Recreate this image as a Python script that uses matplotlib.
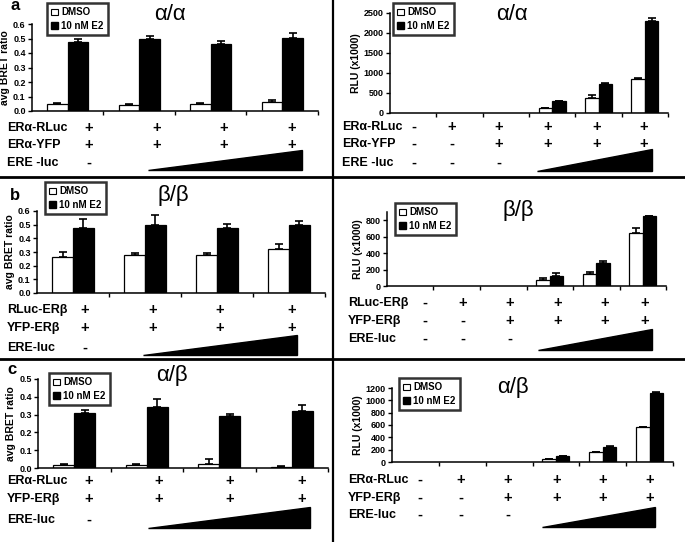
import numpy as np
import matplotlib
matplotlib.use("Agg")
import matplotlib.pyplot as plt
from matplotlib.patches import Patch, Polygon
from matplotlib.lines import Line2D

plt.rcParams["font.family"] = ["Liberation Sans", "DejaVu Sans"]
plt.rcParams["font.weight"] = "bold"

W, H = 685, 542

# ---- data ----
# BRET panels: 4 conditions
bret_a_dmso = [0.045, 0.040, 0.045, 0.065]
bret_a_dmso_err = [0.010, 0.010, 0.010, 0.010]
bret_a_e2 = [0.475, 0.500, 0.465, 0.505]
bret_a_e2_err = [0.025, 0.020, 0.015, 0.035]

bret_b_dmso = [0.265, 0.275, 0.275, 0.320]
bret_b_dmso_err = [0.035, 0.020, 0.020, 0.040]
bret_b_e2 = [0.475, 0.500, 0.475, 0.500]
bret_b_e2_err = [0.070, 0.070, 0.030, 0.030]

bret_c_dmso = [0.015, 0.015, 0.025, 0.005]
bret_c_dmso_err = [0.007, 0.007, 0.025, 0.007]
bret_c_e2 = [0.310, 0.340, 0.290, 0.320]
bret_c_e2_err = [0.015, 0.045, 0.015, 0.035]

# luciferase panels: 6 conditions, first three have no signal
rlu_a_dmso = [0, 0, 0, 130, 370, 860]
rlu_a_dmso_err = [0, 0, 0, 0, 80, 20]
rlu_a_e2 = [0, 0, 0, 290, 730, 2300]
rlu_a_e2_err = [0, 0, 0, 20, 10, 70]

rlu_b_dmso = [0, 0, 0, 75, 145, 640]
rlu_b_dmso_err = [0, 0, 0, 25, 30, 60]
rlu_b_e2 = [0, 0, 0, 120, 280, 850]
rlu_b_e2_err = [0, 0, 0, 35, 30, 0]

rlu_c_dmso = [0, 0, 0, 50, 160, 575]
rlu_c_dmso_err = [0, 0, 0, 0, 10, 0]
rlu_c_e2 = [0, 0, 0, 100, 240, 1120]
rlu_c_e2_err = [0, 0, 0, 0, 15, 20]

labels_aa = ["ERα-RLuc", "ERα-YFP", "ERE -luc"]
labels_bb = ["RLuc-ERβ", "YFP-ERβ", "ERE-luc"]
labels_ab = ["ERα-RLuc", "YFP-ERβ", "ERE-luc"]

signs4 = [["+", "+", "+", "+"], ["+", "+", "+", "+"], ["-", "", "", ""]]
signs6 = [["-", "+", "+", "+", "+", "+"],
          ["-", "-", "+", "+", "+", "+"],
          ["-", "-", "-", "", "", ""]]


def fx(x):
    return x / W


def fy(y):
    return 1 - y / H


fig = plt.figure(figsize=(W / 100, H / 100), dpi=100)


def make_axes(l, t, r, b):
    return fig.add_axes([fx(l), fy(b), fx(r - l), (b - t) / H])


def bar_panel(box, dmso, dmso_err, e2, e2_err, ymax, yticks, fmt, ylabel,
              title, title_xy, leg_xy):
    ax = make_axes(*box)
    n = len(dmso)
    x = np.arange(n)
    w = 0.29
    keep = np.array(e2) > 0
    ax.bar(x[keep] - w / 2, np.array(dmso)[keep], w, color="white",
           edgecolor="black", linewidth=0.9,
           yerr=[np.zeros(keep.sum()), np.array(dmso_err)[keep]],
           error_kw=dict(ecolor="black", elinewidth=1.2, capsize=3, capthick=1.2))
    ax.bar(x[keep] + w / 2, np.array(e2)[keep], w, color="black",
           edgecolor="black", linewidth=0.9,
           yerr=[np.zeros(keep.sum()), np.array(e2_err)[keep]],
           error_kw=dict(ecolor="black", elinewidth=1.2, capsize=3, capthick=1.2))
    ax.set_xlim(-0.5, n - 0.5)
    ax.set_ylim(0, ymax)
    ax.set_yticks(yticks)
    ax.set_yticklabels([fmt.format(v) for v in yticks], fontsize=6.5,
                       fontweight="bold")
    ax.set_xticks(np.arange(n) + 0.5)
    ax.set_xticklabels([])
    ax.tick_params(axis="both", direction="out", length=3, width=1, pad=1.5)
    for s in ["top", "right"]:
        ax.spines[s].set_visible(False)
    for s in ["left", "bottom"]:
        ax.spines[s].set_linewidth(1.1)
    ax.set_ylabel(ylabel, fontsize=7.5, fontweight="bold", labelpad=2)
    fig.text(fx(title_xy[0]), fy(title_xy[1]), title, fontsize=16,
             ha="center", va="center", fontweight="normal")
    handles = [Patch(facecolor="white", edgecolor="black", linewidth=0.8),
               Patch(facecolor="black", edgecolor="black")]
    leg = ax.legend(handles, ["DMSO", "10 nM E2"], loc="upper left",
                    bbox_to_anchor=(fx(leg_xy[0]), fy(leg_xy[1])),
                    bbox_transform=fig.transFigure,
                    handlelength=0.7, handleheight=0.7, handletextpad=0.3,
                    borderpad=0.45, labelspacing=0.35, fancybox=False,
                    borderaxespad=0, prop=dict(weight="bold", size=7))
    leg.get_frame().set_edgecolor("black")
    leg.get_frame().set_linewidth(1.8)
    return ax


def table(lab_x, rows_y, labels, cols_x, signs, wedge):
    for y, lab, row in zip(rows_y, labels, signs):
        fig.text(fx(lab_x), fy(y), lab, fontsize=9, fontweight="bold",
                 ha="left", va="center")
        for x, s in zip(cols_x, row):
            if s:
                fig.text(fx(x), fy(y), s, fontsize=10.5, fontweight="bold",
                         ha="center", va="center")
    (x0, yb), (x1, yt) = wedge
    fig.patches.append(Polygon([(fx(x0), fy(yb)), (fx(x1), fy(yb)),
                                (fx(x1), fy(yt))], closed=True,
                               facecolor="black", edgecolor="black",
                               transform=fig.transFigure, figure=fig))


# ---- panel a ----
bar_panel((32, 24, 318, 111), bret_a_dmso, bret_a_dmso_err, bret_a_e2,
          bret_a_e2_err, 0.6, np.arange(0, 0.61, 0.1), "{:.1f}",
          "avg BRET ratio", "α/α", (170, 15), (47, 3))
table(7, [128, 145, 163], labels_aa, [89, 157, 224, 292], signs4,
      ((148, 170), (302, 150)))

bar_panel((390, 13, 668, 113), rlu_a_dmso, rlu_a_dmso_err, rlu_a_e2,
          rlu_a_e2_err, 2500, np.arange(0, 2501, 500), "{:.0f}",
          "RLU (x1000)", "α/α", (512, 15), (393, 3))
table(342, [127, 144, 163], labels_aa, [414, 452, 499, 548, 597, 644],
      signs6, ((537, 171), (652, 149)))

# ---- panel b ----
bar_panel((37, 211, 325, 293), bret_b_dmso, bret_b_dmso_err, bret_b_e2,
          bret_b_e2_err, 0.6, np.arange(0, 0.61, 0.1), "{:.1f}",
          "avg BRET ratio", "β/β", (173, 195), (45, 182))
table(7, [310, 328, 348], labels_bb, [85, 153, 220, 292], signs4,
      ((143, 355), (297, 335)))

bar_panel((387, 212, 666, 286), rlu_b_dmso, rlu_b_dmso_err, rlu_b_e2,
          rlu_b_e2_err, 900, np.arange(0, 801, 200), "{:.0f}",
          "RLU (x1000)", "β/β", (518, 210), (395, 203))
table(348, [303, 321, 339], labels_bb, [425, 463, 510, 558, 605, 645],
      signs6, ((538, 350), (652, 329)))

# ---- panel c ----
bar_panel((38, 379, 328, 468), bret_c_dmso, bret_c_dmso_err, bret_c_e2,
          bret_c_e2_err, 0.5, np.arange(0, 0.51, 0.1), "{:.1f}",
          "avg BRET ratio", "α/β", (172, 375), (49, 373))
table(7, [481, 499, 520], labels_ab, [89, 159, 230, 302], signs4,
      ((148, 528), (310, 507)))

bar_panel((392, 388, 673, 462), rlu_c_dmso, rlu_c_dmso_err, rlu_c_e2,
          rlu_c_e2_err, 1200, np.arange(0, 1201, 200), "{:.0f}",
          "RLU (x1000)", "α/β", (513, 387), (399, 378))
table(348, [480, 498, 515], labels_ab, [420, 461, 508, 557, 603, 650],
      signs6, ((542, 527), (655, 507)))

# panel letters
fig.text(fx(15), fy(6), "a", fontsize=12, fontweight="bold", ha="center", va="center")
fig.text(fx(15), fy(195), "b", fontsize=12, fontweight="bold", ha="center", va="center")
fig.text(fx(12), fy(370), "c", fontsize=12, fontweight="bold", ha="center", va="center")

# dividers
for y in (177, 359):
    fig.add_artist(Line2D([0, 1], [fy(y), fy(y)], color="black", lw=2,
                          transform=fig.transFigure))
fig.add_artist(Line2D([fx(333), fx(333)], [0, 1], color="black", lw=1.6,
                      transform=fig.transFigure))

fig.savefig("out.png", dpi=100)
